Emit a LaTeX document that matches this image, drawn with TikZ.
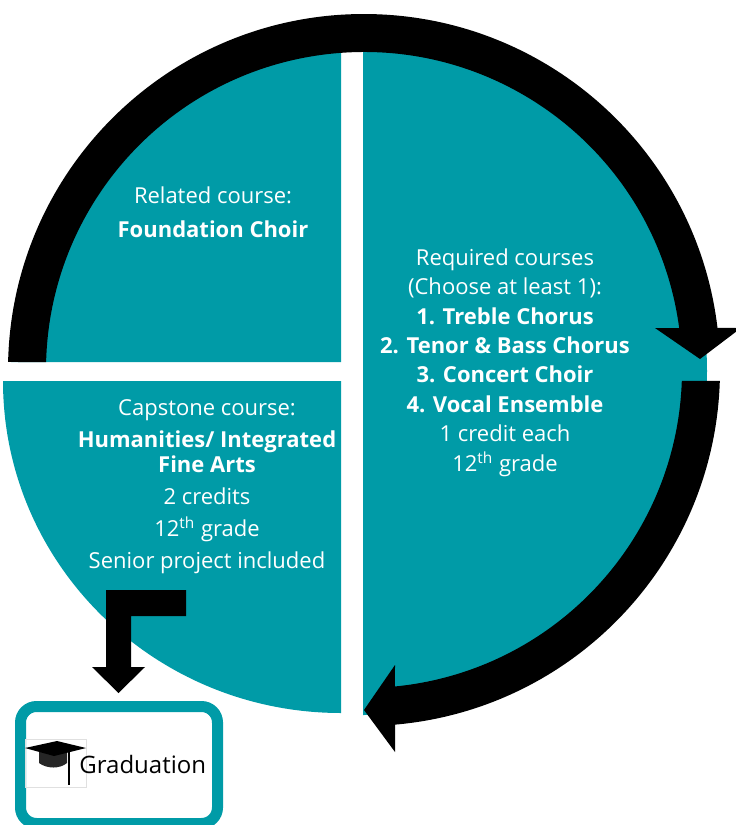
\documentclass[tikz,border=0pt]{standalone}
\usepackage{fontspec}
\setmainfont{Open Sans}
\usetikzlibrary{positioning}
\definecolor{choirteal}{RGB}{0,155,167}

\begin{document}
\begin{tikzpicture}[x=0.5pt,y=-0.5pt,
  blurb/.style={font=\fontsize{11}{14.7}\selectfont,text=white,align=center,inner sep=0pt},
  band/.style={fill=black}]
\useasboundingbox (0,0) rectangle (735,825);
\coordinate (C) at (364,370);

% pie pieces
\fill[choirteal] (341,362) -- (11,362) arc[start angle=180,end angle=270,radius=330] -- cycle;
\fill[choirteal] (341,381) -- (3,381) arc[start angle=180,end angle=90,x radius=338,y radius=332] -- cycle;
\fill[choirteal] (363,27) arc[start angle=270,end angle=450,radius=344] -- cycle;

% cycle arrows
\fill[band] ([shift={(C)}]181.29:356) arc[start angle=181.29,end angle=353.22,radius=356]
  -- (741,328) -- (700,359) -- (655,328)
  -- ([shift={(C)}]352.41:318) arc[start angle=352.41,end angle=181.44,radius=318] -- cycle;
\fill[band] ([shift={(C)}]1.77:356) arc[start angle=1.77,end angle=85,radius=356]
  -- (395,752) -- (364,710) -- (395,665)
  -- ([shift={(C)}]84.41:318) arc[start angle=84.41,end angle=1.98,radius=318] -- cycle;

% texts
\node[blurb] (related) at (213,212.5) {Related course:\\[2.3pt]\textbf{Foundation Choir}};
\node[blurb] (required) at (505,362.5) {Required courses\\(Choose at least 1):\\\textbf{1. Treble Chorus}\\\textbf{2. Tenor \& Bass Chorus}\\\textbf{3. Concert Choir}\\\textbf{4. Vocal Ensemble}\\1 credit each\\12\textsuperscript{th} grade};
\node[blurb,font=\fontsize{11}{12.5}\selectfont] (capstone) at (207,486.5) {Capstone course:\\[3.5pt]\textbf{Humanities/ Integrated}\\\textbf{Fine Arts}\\[3.5pt]2 credits\\[3.5pt]12\textsuperscript{th} grade\\[3.5pt]Senior project included};

% graduation
\node[draw=choirteal,line width=5.5pt,rounded corners=8pt,minimum width=98.5pt,minimum height=58.5pt] (gradbox) at (119,765) {};
\node[draw=black!12,line width=0.3pt,minimum width=30.5pt,minimum height=24pt,inner sep=0pt] (capicon) at (55.5,763) {};
\fill[black!85] (39,751) -- (39,763) .. controls (47,769) and (60,769) .. (67,763) -- (67,751) -- cycle;
\fill[black] (25,748) -- (57,741) -- (86,748) -- (54,756) -- cycle;
\draw[black,line width=1.3pt] (69,749) -- (69,785);
\node[anchor=west,font=\fontsize{12}{14}\selectfont,inner sep=0pt] (gradlabel) at (79,764) {Graduation};

% bent arrow to graduation
\fill[band] (186,590) -- (106,590) -- (106,667) -- (92,667) -- (118.5,693) -- (145,667) -- (131,667) -- (131,616) -- (186,616) -- cycle;

\end{tikzpicture}
\end{document}
